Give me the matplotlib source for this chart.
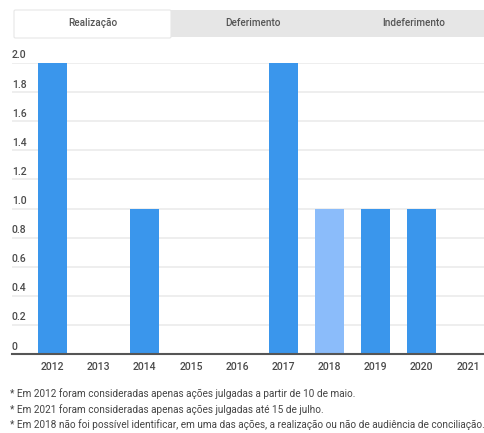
import matplotlib.pyplot as plt
from matplotlib.patches import Rectangle, FancyBboxPatch

# Dados: audiências de conciliação realizadas por ano
anos = ['2012', '2013', '2014', '2015', '2016', '2017', '2018', '2019', '2020', '2021']
realizacao = [2, 0, 1, 0, 0, 2, 1, 1, 1, 0]
destaque = '2018'

abas = ['Realização', 'Deferimento', 'Indeferimento']
notas = [
    '* Em 2012 foram consideradas apenas ações julgadas a partir de 10 de maio.',
    '* Em 2021 foram consideradas apenas ações julgadas até 15 de julho.',
    '* Em 2018 não foi possível identificar, em uma das ações, a realização ou não de audiência de conciliação.',
]

plt.rcParams['font.family'] = ['Roboto', 'DejaVu Sans']
cor_barra = '#3a96ec'
cor_destaque = '#8bbcfa'
cor_texto = '#4a4a4a'

W, H = 485, 433
fig = plt.figure(figsize=(W / 100, H / 100), dpi=100)

# Abas no topo
fig.patches.append(Rectangle((171 / W, 1 - 37 / H), (W - 171) / W, 27 / H,
                             transform=fig.transFigure, facecolor='#e6e6e6',
                             edgecolor='none', zorder=0))
fig.patches.append(FancyBboxPatch((14 / W, 1 - 38 / H), 157 / W, 28 / H,
                                  boxstyle='round,pad=0,rounding_size=0.003',
                                  transform=fig.transFigure, facecolor='white',
                                  edgecolor='#e6e6e6', linewidth=0.8, zorder=1))
pos_abas = [93, 253, 414]
for nome, x in zip(abas, pos_abas):
    fig.text(x / W, 1 - 23 / H, nome, ha='center', va='center',
             fontsize=7.2, color='#555555', fontweight='medium')

# Gráfico de barras
ax = fig.add_axes([12 / W, 1 - 354 / H, 1 - 12 / W, (354 - 63) / H])
cores = [cor_destaque if a == destaque else cor_barra for a in anos]
pos = list(range(len(anos)))
ax.bar(pos, realizacao, width=0.63, color=cores, zorder=2)

ax.set_xlim(-0.877, 9.37)
ax.set_ylim(0, 2)
ax.set_xticks(pos)
ax.set_xticklabels(anos, fontsize=7.5, color=cor_texto, fontweight='medium')
ax.tick_params(axis='x', length=0, pad=6)

yticks = [0, 0.2, 0.4, 0.6, 0.8, 1.0, 1.2, 1.4, 1.6, 1.8, 2.0]
ax.set_yticks([])
for v in yticks:
    if v > 0:
        ax.axhline(v, color='#ebebeb', linewidth=1.2, zorder=1)
    rotulo = '0' if v == 0 else f'{v:.1f}'
    ax.annotate(rotulo, (0, v), xycoords=('axes fraction', 'data'),
                xytext=(0, 1.8), textcoords='offset points',
                ha='left', va='bottom', fontsize=7.5, color=cor_texto,
                fontweight='medium')

for lado in ['top', 'right', 'left']:
    ax.spines[lado].set_visible(False)
ax.spines['bottom'].set_color('#555555')
ax.spines['bottom'].set_linewidth(1.5)
ax.spines['bottom'].set_zorder(3)

# Notas de rodapé
for i, nota in enumerate(notas):
    fig.text(10 / W, 1 - (394 + i * 15.5) / H, nota, ha='left', va='center',
             fontsize=7.2, color='#444444')

plt.savefig('out.png', dpi=100)
